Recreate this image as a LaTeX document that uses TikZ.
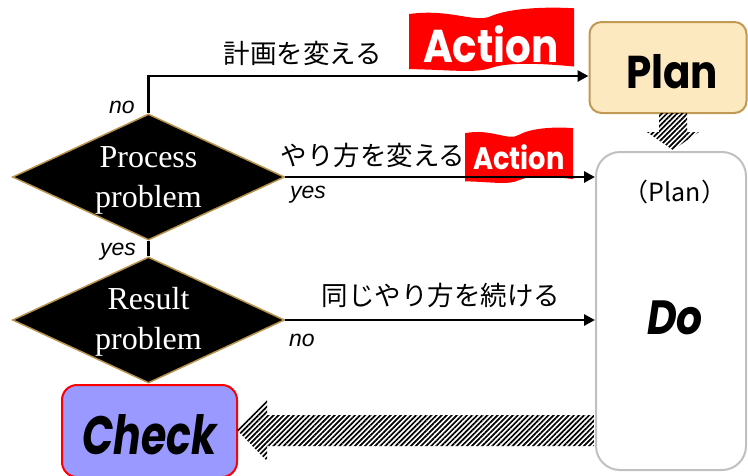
\documentclass[tikz,border=0pt]{standalone}
\usepackage{fontspec}
\setmainfont{Liberation Serif}
\setsansfont{Liberation Sans}
\newfontfamily\cjk{Noto Sans CJK JP}
\newfontfamily\popfont{Poppins}
\usetikzlibrary{shapes.geometric,arrows.meta,patterns.meta,calc}
\definecolor{tan}{HTML}{B8924A}
\definecolor{planfill}{HTML}{FDE9C0}
\definecolor{plandraw}{HTML}{C09A55}
\definecolor{checkfill}{HTML}{9999FF}
\definecolor{dogray}{HTML}{C0C0C0}
\tikzset{
  dec/.style={diamond, fill=black, draw=tan, line width=1.5pt, minimum width=272pt, minimum height=126pt, inner sep=0pt},
  dectext/.style={text=white, font=\fontsize{32}{40}\selectfont, align=center, inner sep=0pt},
  conn/.style={line width=2.8pt, -{Triangle[length=11pt,width=11pt]}},
  plain/.style={line width=2.8pt},
  lbl/.style={font=\sffamily\itshape\fontsize{23}{26}\selectfont, inner sep=0pt},
  jp/.style={font=\cjk\fontsize{26.5}{30}\selectfont, inner sep=0pt},
  planbox/.style={draw=plandraw, fill=planfill, line width=2pt, rounded corners=12pt, minimum width=157pt, minimum height=91pt, inner sep=0pt},
  dobox/.style={draw=dogray, fill=white, line width=2pt, rounded corners=24pt, minimum width=150pt, minimum height=318pt, inner sep=0pt},
  checkbox/.style={draw=red, fill=checkfill, line width=2pt, rounded corners=15pt, minimum width=175pt, minimum height=92pt, inner sep=0pt},
  bigword/.style={font=\popfont\bfseries\fontsize{46}{50}\selectfont, inner sep=0pt},
  actiontext/.style={text=white, font=\popfont\bfseries\fontsize{#1}{#1}\selectfont, inner sep=0pt},
  hatch/.style={pattern={Lines[angle=45,distance=3.6pt,line width=1.7pt]}, pattern color=black},
  banner/.pic={\fill[red] (0,0.11) .. controls (0.25,0.02) and (0.4,0.26) .. (0.5,0.14)
      .. controls (0.6,0.03) and (0.8,-0.01) .. (1,0.02) -- (1,0.93)
      .. controls (0.8,0.88) and (0.6,0.86) .. (0.5,0.95)
      .. controls (0.4,1.04) and (0.25,0.98) .. (0,0.97) -- cycle;}
}
\begin{document}
\begin{tikzpicture}[x=1pt,y=-1pt]
\useasboundingbox (0,0) rectangle (748,475);
% boxes
\node[planbox] (plan) at (668,67.5) {};
\node[bigword] (plantext) at (672,72) {\scalebox{0.88}[1]{Plan}};
\node[dobox] (do) at (671,311) {};
\node[font=\cjk\fontsize{25}{28}\selectfont, inner sep=0pt] (doplan) at (675,192) {（Plan）};
\node[font=\popfont\bfseries\itshape\fontsize{48}{52}\selectfont, inner sep=0pt] (dotext) at (675,318) {\scalebox{0.85}[1]{Do}};
\node[checkbox] (check) at (149.5,431) {};
\node[font=\popfont\bfseries\itshape\fontsize{54}{58}\selectfont, inner sep=0pt] (checktext) at (149.5,435) {\scalebox{0.76}[1]{Check}};
% hatched arrows
\fill[hatch] (659,113) -- (687,113) -- (687,132) -- (699,132) -- (673,150) -- (647,132) -- (659,132) -- cycle;
\fill[hatch] (594,415) -- (267,415) -- (267,399) -- (237,430) -- (267,461) -- (267,446) -- (594,446) -- cycle;
% diamonds
\node[dec] (p) at (148.5,177) {};
\node[dectext] (ptext) at (148.5,180) {Process\\problem};
\node[dec] (r) at (148.5,320) {};
\node[dectext] (rtext) at (148.5,322) {Result\\problem};
% banners
\pic[xscale=165,yscale=64] at (409,7) {banner};
\node[actiontext=46] (act1) at (491,44) {\scalebox{0.88}[1]{Action}};
\pic[xscale=108,yscale=56] at (465,127) {banner};
\node[actiontext=31] (act2) at (519,157) {\scalebox{0.88}[1]{Action}};
% connectors
\draw[conn] (p.north) |- (plan.west |- 0,76);
\draw[conn] (p.east) -- (do.west |- p.east);
\draw[conn] (r.east) -- (do.west |- r.east);
\draw[plain] (p.south) -- (r.north);
% labels
\node[lbl] (no1) at (122,107) {no};
\node[lbl] (yes1) at (308,195) {yes};
\node[lbl] (yes2) at (118,252) {yes};
\node[lbl] (no2) at (302,340) {no};
\node[jp] (j1) at (303,53) {計画を変える};
\node[jp] (j2) at (373,155) {やり方を変える};
\node[jp] (j3) at (441,295) {同じやり方を続ける};
\end{tikzpicture}
\end{document}
